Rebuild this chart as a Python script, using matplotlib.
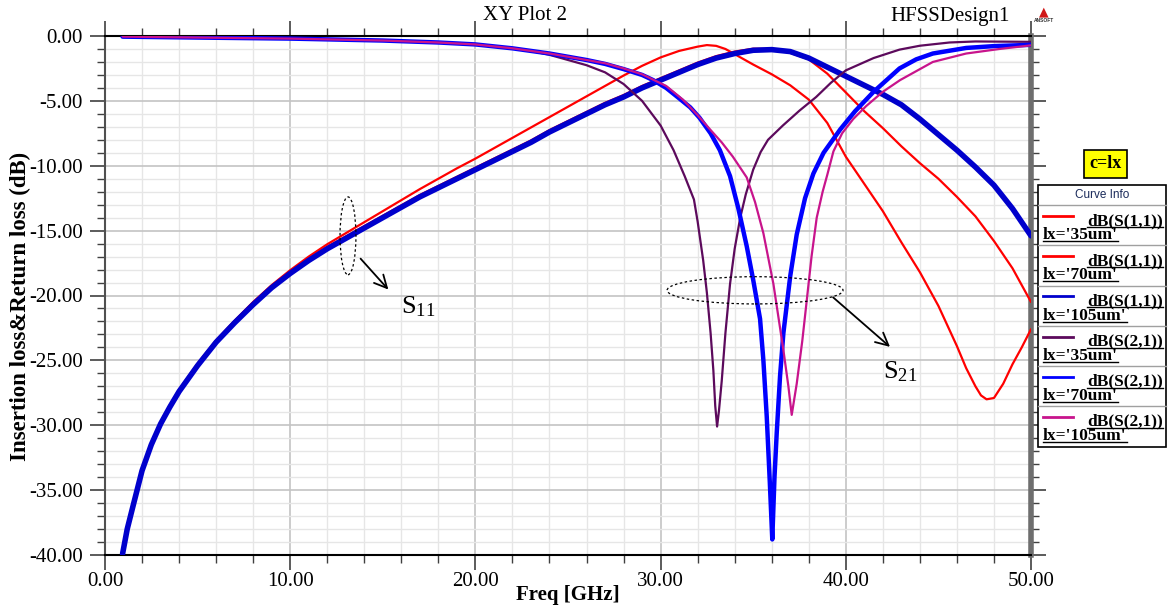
""" S-parameter sweep over lx: return loss and insertion loss vs frequency. """

import matplotlib
matplotlib.use("Agg")
import matplotlib.pyplot as plt
from matplotlib.patches import Ellipse, Rectangle
from matplotlib.lines import Line2D
from matplotlib.ticker import MultipleLocator, FormatStrFormatter

SERIF = "Liberation Serif"
SANS = "Liberation Sans"

plt.rcParams["mathtext.fontset"] = "custom"
plt.rcParams["mathtext.rm"] = SERIF
plt.rcParams["mathtext.it"] = SERIF

# dB(S(1,1)), lx='35um'
f_s11_35 = [0.95, 1.2, 1.5, 2.0, 2.5, 3.0, 3.5, 4.0, 5.0, 6.0, 7.0, 8.0, 9.0, 10.0,
            11.0, 12.0, 13.0, 14.0, 15.0, 16.0, 17.0, 18.0, 19.0, 20.0, 21.0, 22.0,
            23.0, 24.0, 25.0, 26.0, 27.0, 28.0, 29.0, 30.0, 31.0, 32.0, 32.5, 33.0,
            33.5, 34.0, 35.0, 36.0, 37.0, 38.0, 39.0, 40.0, 41.0, 42.0, 43.0, 44.0,
            45.0, 46.0, 46.5, 47.0, 47.3, 47.6, 48.0, 48.5, 49.0, 49.5, 50.0]
s11_35 = [-39.9, -37.9, -36.2, -33.4, -31.4, -29.8, -28.5, -27.3, -25.3, -23.5, -21.95,
          -20.5, -19.2, -18.05, -17.0, -16.05, -15.2, -14.35, -13.5, -12.65, -11.8, -11.0,
          -10.2, -9.45, -8.65, -7.85, -7.05, -6.25, -5.45, -4.65, -3.85, -3.05, -2.3,
          -1.65, -1.15, -0.82, -0.7, -0.76, -1.0, -1.4, -2.2, -2.95, -3.8, -4.9, -6.7,
          -9.3, -11.4, -13.5, -15.9, -18.2, -20.8, -23.9, -25.6, -27.0, -27.7, -28.0,
          -27.9, -26.8, -25.3, -24.0, -22.6]

# dB(S(1,1)), lx='70um'
f_s11_70 = [0.95, 1.2, 1.5, 2.0, 2.5, 3.0, 3.5, 4.0, 5.0, 6.0, 7.0, 8.0, 9.0, 10.0,
            11.0, 12.0, 13.0, 14.0, 15.0, 16.0, 17.0, 18.0, 19.0, 20.0, 21.0, 22.0,
            23.0, 24.0, 25.0, 26.0, 27.0, 28.0, 29.0, 30.0, 31.0, 32.0, 33.0, 34.0,
            35.0, 36.0, 37.0, 38.0, 39.0, 40.0, 41.0, 42.0, 43.0, 44.0, 45.0, 46.0,
            47.0, 48.0, 49.0, 50.0]
s11_70 = [-39.8, -37.9, -36.15, -33.35, -31.35, -29.75, -28.45, -27.25, -25.25, -23.45,
          -21.95, -20.55, -19.25, -18.15, -17.15, -16.25, -15.45, -14.65, -13.85, -13.05,
          -12.25, -11.55, -10.85, -10.15, -9.45, -8.75, -8.05, -7.25, -6.55, -5.85,
          -5.15, -4.55, -3.85, -3.25, -2.65, -2.05, -1.55, -1.2, -0.98, -1.0, -1.3,
          -1.8, -2.9, -4.35, -5.8, -7.1, -8.5, -9.8, -11.0, -12.4, -13.9, -15.8, -17.9,
          -20.5]

# dB(S(1,1)), lx='105um'
f_s11_105 = [0.95, 1.2, 1.5, 2.0, 2.5, 3.0, 3.5, 4.0, 5.0, 6.0, 7.0, 8.0, 9.0, 10.0,
             11.0, 12.0, 13.0, 14.0, 15.0, 16.0, 17.0, 18.0, 19.0, 20.0, 21.0, 22.0,
             23.0, 24.0, 25.0, 26.0, 27.0, 28.0, 29.0, 30.0, 31.0, 32.0, 33.0, 34.0,
             35.0, 36.0, 37.0, 38.0, 39.0, 40.0, 41.0, 42.0, 43.0, 44.0, 45.0, 46.0,
             47.0, 48.0, 49.0, 50.0]
s11_105 = [-39.9, -38.0, -36.3, -33.5, -31.5, -29.9, -28.6, -27.4, -25.4, -23.6, -22.1,
           -20.7, -19.4, -18.3, -17.3, -16.4, -15.6, -14.8, -14.0, -13.2, -12.4, -11.7,
           -11.0, -10.3, -9.6, -8.9, -8.2, -7.4, -6.7, -6.0, -5.3, -4.7, -4.0, -3.4,
           -2.8, -2.2, -1.7, -1.35, -1.1, -1.05, -1.2, -1.7, -2.4, -3.1, -3.8, -4.5,
           -5.3, -6.4, -7.6, -8.8, -10.1, -11.5, -13.3, -15.4]

# dB(S(2,1)), lx='35um'
f_s21_35 = [0.95, 5.0, 10.0, 15.0, 18.0, 20.0, 21.0, 22.0, 23.0, 24.0, 25.0, 26.0, 27.0,
            28.0, 29.0, 30.0, 30.7, 31.3, 31.8, 32.0, 32.3, 32.5, 32.7, 32.85, 32.95,
            33.05, 33.15, 33.3, 33.5, 33.75, 34.0, 34.3, 34.6, 35.0, 35.4, 35.8, 36.6,
            37.5, 38.4, 39.2, 40.0, 41.5, 42.9, 44.0, 45.6, 47.0, 50.0]
s21_35 = [-0.05, -0.12, -0.2, -0.35, -0.5, -0.65, -0.8, -0.95, -1.15, -1.45, -1.85,
          -2.25, -2.8, -3.7, -5.0, -6.9, -8.8, -10.8, -12.6, -14.3, -17.3, -19.8, -22.9,
          -25.8, -28.5, -30.1, -28.9, -26.6, -22.9, -19.1, -16.4, -14.0, -12.2, -10.3,
          -8.95, -8.0, -6.9, -5.75, -4.7, -3.6, -2.65, -1.7, -1.05, -0.75, -0.5, -0.42,
          -0.45]

# dB(S(2,1)), lx='70um'
f_s21_70 = [0.95, 5.0, 10.0, 15.0, 18.0, 20.0, 21.0, 22.0, 23.0, 24.0, 25.0, 26.0, 27.0,
            28.0, 29.0, 29.6, 30.3, 31.0, 31.6, 32.1, 32.7, 33.2, 33.75, 34.2, 34.65,
            35.0, 35.37, 35.55, 35.73, 35.9, 36.03, 36.15, 36.27, 36.45, 36.63, 37.0,
            37.35, 37.8, 38.25, 38.8, 39.7, 40.5, 41.5, 42.9, 43.8, 44.7, 46.5, 48.0,
            50.0]
s21_70 = [-0.05, -0.12, -0.2, -0.35, -0.5, -0.65, -0.8, -0.95, -1.15, -1.35, -1.6, -1.85,
          -2.15, -2.55, -3.0, -3.4, -4.0, -4.8, -5.5, -6.3, -7.5, -8.8, -10.8, -13.3,
          -16.2, -18.8, -21.8, -25.0, -29.3, -34.5, -38.8, -34.0, -30.6, -26.2, -22.9,
          -18.5, -15.3, -12.5, -10.6, -9.0, -7.2, -5.8, -4.3, -2.5, -1.8, -1.35, -0.92,
          -0.78, -0.68]

# dB(S(2,1)), lx='105um'
f_s21_105 = [0.95, 5.0, 10.0, 15.0, 18.0, 20.0, 21.0, 22.0, 23.0, 24.0, 25.0, 26.0, 27.0,
             28.0, 29.0, 30.3, 31.2, 32.0, 32.67, 33.3, 33.9, 34.65, 35.1, 35.55, 36.09,
             36.63, 36.9, 37.08, 37.35, 37.65, 37.89, 38.15, 38.43, 38.75, 39.0, 39.33,
             39.8, 40.4, 41.1, 42.0, 42.93, 44.7, 46.5, 48.3, 50.0]
s21_105 = [-0.05, -0.12, -0.2, -0.35, -0.5, -0.65, -0.8, -0.95, -1.15, -1.35, -1.6, -1.85,
           -2.1, -2.5, -2.95, -3.85, -4.9, -6.1, -7.2, -8.2, -9.3, -10.9, -12.8, -15.2,
           -19.1, -24.2, -27.0, -29.2, -26.8, -23.5, -20.4, -17.0, -14.0, -12.0, -10.7,
           -8.9, -7.5, -6.4, -5.4, -4.3, -3.4, -2.0, -1.35, -1.0, -0.72]

curve_names = ["dB(S(1,1))", "dB(S(1,1))", "dB(S(1,1))",
               "dB(S(2,1))", "dB(S(2,1))", "dB(S(2,1))"]
curve_lx = ["lx='35um'", "lx='70um'", "lx='105um'",
            "lx='35um'", "lx='70um'", "lx='105um'"]
curve_colors = ["#ff0000", "#ff0000", "#0000cc", "#5c0a5c", "#0000ff", "#c8148c"]
curve_widths = [1.6, 1.6, 4.0, 1.6, 3.2, 1.6]

W, H = 1169, 610


def fp(x, y):
    """pixel position (from top-left) -> figure fraction"""
    return x / W, 1 - y / H


fig = plt.figure(figsize=(W / 100, H / 100), dpi=100)
ax = fig.add_axes([105 / W, 1 - 555 / H, (1031 - 105) / W, (555 - 36) / H])

series = [(f_s11_35, s11_35), (f_s11_70, s11_70), (f_s11_105, s11_105),
          (f_s21_35, s21_35), (f_s21_70, s21_70), (f_s21_105, s21_105)]
for (fx, fy), c, lw in zip(series, curve_colors, curve_widths):
    ax.plot(fx, fy, color=c, lw=lw, solid_joinstyle="round",
            solid_capstyle="round", zorder=3)

ax.set_xlim(0, 50)
ax.set_ylim(-40, 0)
ax.xaxis.set_major_locator(MultipleLocator(10))
ax.xaxis.set_minor_locator(MultipleLocator(2))
ax.yaxis.set_major_locator(MultipleLocator(5))
ax.yaxis.set_minor_locator(MultipleLocator(1))
ax.xaxis.set_major_formatter(FormatStrFormatter("%.2f"))
ax.yaxis.set_major_formatter(FormatStrFormatter("%.2f"))

ax.grid(which="minor", color="#e6e6e6", lw=1.0, zorder=0)
ax.grid(which="major", color="#c4c4c4", lw=1.2, zorder=0)
ax.set_axisbelow(True)

ax.tick_params(which="both", direction="out", top=True, right=True,
               colors="#404040", labelcolor="black", labelsize=15)
ax.tick_params(which="major", length=11, width=1.2)
ax.tick_params(which="minor", length=6, width=1.0)
ax.tick_params(axis="y", pad=5)
ax.tick_params(axis="x", pad=1)
for lab in ax.get_xticklabels() + ax.get_yticklabels():
    lab.set_fontfamily(SERIF)

ax.spines["left"].set_color("#505050")
ax.spines["left"].set_linewidth(1.5)
ax.spines["bottom"].set_color("black")
ax.spines["bottom"].set_linewidth(1.5)
ax.spines["top"].set_color("black")
ax.spines["top"].set_linewidth(1.5)
ax.spines["right"].set_color("#6e6e6e")
ax.spines["right"].set_linewidth(4)

ax.set_xlabel("Freq [GHz]", fontfamily=SERIF, fontweight="bold", fontsize=15)
ax.set_ylabel("Insertion loss&Return loss (dB)", fontfamily=SERIF,
              fontweight="bold", fontsize=16.5)
ax.xaxis.set_label_coords(0.5, -0.058)
ax.yaxis.set_label_coords(-0.08, 0.478)

# annotations: S11 and S21 groups
ax.add_patch(Ellipse((13.12, -15.4), 0.86, 6.0, fill=False, ls=(0, (2, 2)),
                     lw=0.9, color="black", zorder=4))
ax.annotate("", xy=(15.4, -19.7), xytext=(13.7, -17.0),
            arrowprops=dict(arrowstyle="->,head_length=0.9,head_width=0.45",
                            lw=1.3, color="black"), zorder=4)
ax.text(16.0, -20.9, r"S$_{11}$", fontfamily=SERIF, fontsize=19,
        va="center", ha="left", zorder=4)

ax.add_patch(Ellipse((35.1, -19.6), 9.5, 2.1, fill=False, ls=(0, (2, 2)),
                     lw=0.9, color="black", zorder=4))
ax.annotate("", xy=(42.5, -24.1), xytext=(39.2, -20.0),
            arrowprops=dict(arrowstyle="->,head_length=0.9,head_width=0.45",
                            lw=1.3, color="black"), zorder=4)
ax.text(42.0, -25.9, r"S$_{21}$", fontfamily=SERIF, fontsize=19,
        va="center", ha="left", zorder=4)

# header texts
fig.text(*fp(525, 16), "XY Plot 2", fontfamily=SERIF, fontsize=15,
         ha="center", va="center")
fig.text(*fp(950, 16), "HFSSDesign1", fontfamily=SERIF, fontsize=15,
         ha="center", va="center")
fig.text(*fp(1044, 12), "\u25B2", color="#d01818", fontsize=9,
         ha="center", va="center")
fig.text(*fp(1044, 21), "ANSOFT", color="#303030", fontsize=3.5,
         fontfamily=SANS, fontweight="bold", ha="center", va="center")

# parameter tag
x0, y0 = fp(1084, 178)
fig.patches.append(Rectangle((x0, y0), 43 / W, 28 / H, transform=fig.transFigure,
                             facecolor="#ffff00", edgecolor="black", lw=1.2))
fig.text(*fp(1105.5, 164), "c=lx", fontfamily=SERIF, fontweight="bold",
         fontsize=13, ha="center", va="center")

# curve info table
box_l, box_r, box_t, box_b = 1038, 1166, 185, 447
row_tops = [205, 245, 285.5, 325.5, 365.5, 405.5]
x0, y0 = fp(box_l, box_b)
fig.patches.append(Rectangle((x0, y0), (box_r - box_l) / W, (box_b - box_t) / H,
                             transform=fig.transFigure, facecolor="white",
                             edgecolor="black", lw=1.2))
for rt in row_tops:
    fig.add_artist(Line2D([box_l / W, box_r / W], [1 - rt / H, 1 - rt / H],
                          color="#a0a0a0", lw=1.0, transform=fig.transFigure))
fig.text(*fp(1102, 195), "Curve Info", fontfamily=SANS, fontsize=8.5,
         color="#1a2a5a", ha="center", va="center")

label_texts = []
for rt, name, lx, c in zip(row_tops, curve_names, curve_lx, curve_colors):
    fig.add_artist(Line2D([1043 / W, 1073 / W], [1 - (rt + 11) / H] * 2,
                          color=c, lw=2.0, transform=fig.transFigure))
    t1 = fig.text(*fp(1163, rt + 20), name, fontfamily=SERIF, fontweight="bold",
                  fontsize=12.5, ha="right", va="baseline")
    t2 = fig.text(*fp(1043, rt + 34), lx, fontfamily=SERIF, fontweight="bold",
                  fontsize=12.5, ha="left", va="baseline")
    label_texts += [(t1, rt + 22), (t2, rt + 36)]

# underline the table entries
renderer = fig.canvas.get_renderer()
for t, uy in label_texts:
    bb = t.get_window_extent(renderer)
    fig.add_artist(Line2D([bb.x0 / W, bb.x1 / W], [1 - uy / H] * 2,
                          color="black", lw=1.0, transform=fig.transFigure))

fig.savefig("out.png", dpi=100)
